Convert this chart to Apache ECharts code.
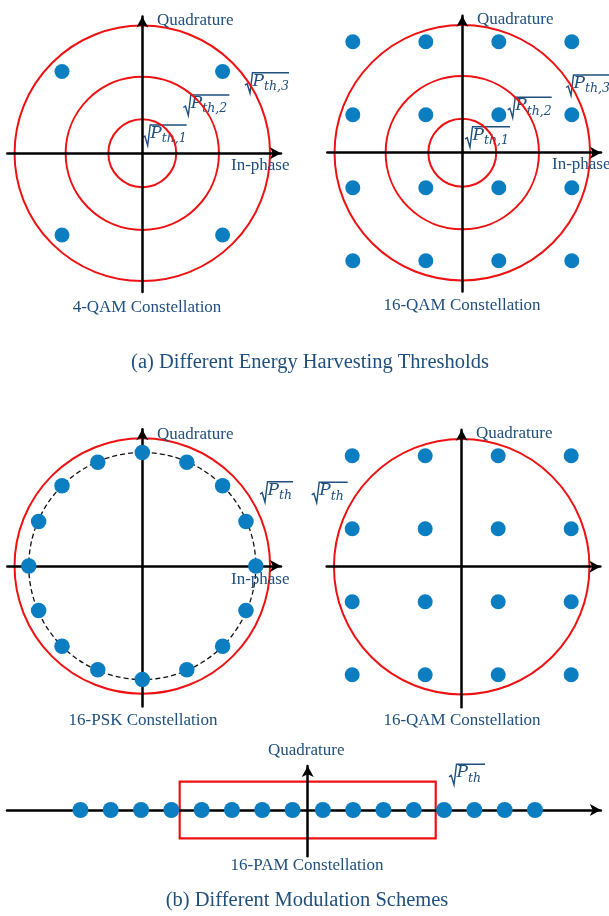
<!DOCTYPE html>
<html>
<head>
<meta charset="utf-8">
<script src="https://cdn.jsdelivr.net/npm/echarts@6/dist/echarts.min.js"></script>
<style>
  html, body { margin: 0; padding: 0; background: #ffffff; }
  #chart { width: 609px; height: 916px; }
</style>
</head>
<body>
<div id="chart"></div>
<script>
// ---- Constellation data (in-phase, quadrature) ----
const qam4Points = [[-2.2, 2.24], [2.2, 2.24], [-2.2, -2.24], [2.2, -2.24]];
const qam16I = [-3, -1, 1, 3];
const qam16Q = [3.04, 1.04, -0.96, -2.96];
const psk16Points = [
  [3.11, 0], [2.84, 1.22], [2.2, 2.2], [1.22, 2.84],
  [0, 3.11], [-1.22, 2.84], [-2.2, 2.2], [-2.84, 1.22],
  [-3.11, 0], [-2.84, -1.22], [-2.2, -2.2], [-1.22, -2.84],
  [0, -3.11], [1.22, -2.84], [2.2, -2.2], [2.84, -1.22]
];
const pam16Levels = [-15, -13, -11, -9, -7, -5, -3, -1, 1, 3, 5, 7, 9, 11, 13, 15];

// ---- Energy-harvesting thresholds ----
const thresholdRadii = [0.93, 2.1, 3.5];      // sqrt(P_th,1..3)
const singleThresholdRadius = 3.5;            // sqrt(P_th)
const pskRingRadius = 3.11;
const pamThresholdBox = [8.45, 1.87];         // half-width, half-height

// ---- Text ----
const axisNameI = 'In-phase';
const axisNameQ = 'Quadrature';
const captions = ['4-QAM Constellation', '16-QAM Constellation', '16-PSK Constellation',
                  '16-QAM Constellation', '16-PAM Constellation'];
const groupTitles = ['(a) Different Energy Harvesting Thresholds', '(b) Different Modulation Schemes'];

// ---- Layout: axis origin in px, px per unit, axis extents ----
const panels = [
  { cx: 142.3, cy: 153.3, s: 36.5, x: [-3.7, 3.8], y: [-3.8, 3.75] },
  { cx: 462.3, cy: 152.7, s: 36.5, x: [-3.7, 3.8], y: [-3.8, 3.75] },
  { cx: 142.3, cy: 566.0, s: 36.5, x: [-3.7, 3.8], y: [-3.85, 3.75] },
  { cx: 461.7, cy: 566.7, s: 36.5, x: [-3.7, 3.8], y: [-3.85, 3.75] },
  { cx: 307.7, cy: 810.0, s: 15.15, x: [-19.85, 19.35], y: [-3.05, 2.9] }
];

const TEXT = '#1f4f7d';
const DOT = '#0b7ec1';
const RED = '#ee1111';
const SERIF = '"Liberation Serif", "Times New Roman", serif';

const grids = panels.map(p => ({
  left: p.cx + p.x[0] * p.s,
  top: p.cy - p.y[1] * p.s,
  width: (p.x[1] - p.x[0]) * p.s,
  height: (p.y[1] - p.y[0]) * p.s
}));

function axis(i, range) {
  return {
    type: 'value', gridIndex: i, min: range[0], max: range[1], z: 3,
    axisLine: { show: true, onZero: true, symbol: ['none', 'arrow'], symbolSize: [9, 11],
                lineStyle: { color: '#000', width: 2.5 } },
    axisTick: { show: false }, axisLabel: { show: false }, splitLine: { show: false }
  };
}
const xAxes = panels.map((p, i) => axis(i, p.x));
const yAxes = panels.map((p, i) => axis(i, p.y));

function dots(i, data, size) {
  return { type: 'scatter', xAxisIndex: i, yAxisIndex: i, data, symbolSize: size, z: 5,
           itemStyle: { color: DOT, opacity: 1 }, silent: true };
}

function rings(i, radii, stroke, width, dash) {
  return {
    type: 'custom', xAxisIndex: i, yAxisIndex: i, z: 2, silent: true,
    data: radii.map(r => [r, 0]),
    renderItem: (params, api) => {
      const c = api.coord([0, 0]);
      const r = api.size([api.value(0), 0])[0];
      return { type: 'circle', shape: { cx: c[0], cy: c[1], r },
               style: { fill: 'none', stroke, lineWidth: width, lineDash: dash || null } };
    }
  };
}

function box(i, halfSize) {
  return {
    type: 'custom', xAxisIndex: i, yAxisIndex: i, z: 2, silent: true,
    data: [halfSize],
    renderItem: (params, api) => {
      const hw = api.value(0), hh = api.value(1);
      const tl = api.coord([-hw, hh]);
      const sz = api.size([2 * hw, 2 * hh]);
      return { type: 'rect', shape: { x: tl[0], y: tl[1], width: sz[0], height: sz[1] },
               style: { fill: 'none', stroke: RED, lineWidth: 2.2 } };
    }
  };
}

const qam16Points = qam16Q.flatMap(q => qam16I.map(v => [v, q]));
const pamPoints = pam16Levels.map(v => [v, 0]);

// ---- Annotations ----
function label(text, x, y, align) {
  return { type: 'text', x, y, z: 10,
           style: { text, font: '17px ' + SERIF, fill: TEXT, align: align || 'left', verticalAlign: 'middle' } };
}
// sqrt(P_sub) drawn as a radical stroke with an overbar
function radical(x, y, sub, w) {
  return {
    type: 'group', x, y, z: 10, children: [
      { type: 'polyline', shape: { points: [[0, 12.5], [2.2, 11], [5, 20.5], [7.5, 0], [w, 0]] },
        style: { stroke: TEXT, lineWidth: 1.4, fill: null, lineJoin: 'miter' } },
      { type: 'text', x: 7.5, y: 0,
        style: { text: 'P', font: 'italic 17px "DejaVu Serif"', fill: TEXT, verticalAlign: 'top' } },
      { type: 'text', x: 19, y: 7.5,
        style: { text: sub, font: 'italic 12.5px "DejaVu Serif"', fill: TEXT, verticalAlign: 'top' } }
    ]
  };
}

const graphics = [
  label(axisNameQ, 157, 21), label(axisNameI, 231, 166),
  label(axisNameQ, 477, 20), label(axisNameI, 552, 165),
  label(axisNameQ, 157, 435), label(axisNameI, 231, 580),
  label(axisNameQ, 476, 434),
  label(axisNameQ, 268, 751),
  label(captions[0], 147, 308, 'center'),
  label(captions[1], 462, 306, 'center'),
  label(captions[2], 143, 721, 'center'),
  label(captions[3], 462, 721, 'center'),
  label(captions[4], 307, 866, 'center'),
  { type: 'text', x: 310, y: 363, z: 10,
    style: { text: groupTitles[0], font: '20.5px ' + SERIF, fill: TEXT, align: 'center', verticalAlign: 'middle' } },
  { type: 'text', x: 307, y: 901, z: 10,
    style: { text: groupTitles[1], font: '20.5px ' + SERIF, fill: TEXT, align: 'center', verticalAlign: 'middle' } },
  radical(245, 72.7, 'th,3', 44),
  radical(183.3, 95, 'th,2', 46),
  radical(142.7, 125, 'th,1', 44),
  radical(566, 75, 'th,3', 44),
  radical(507.7, 97.3, 'th,2', 44),
  radical(465, 126.7, 'th,1', 45),
  radical(260, 481.7, 'th', 33),
  radical(311.7, 482.3, 'th', 36),
  radical(449, 764.3, 'th', 36)
];

const chart = echarts.init(document.getElementById('chart'), null, { renderer: 'canvas' });
chart.setOption({
  animation: false,
  backgroundColor: '#ffffff',
  grid: grids,
  xAxis: xAxes,
  yAxis: yAxes,
  series: [
    rings(0, thresholdRadii, RED, 2),
    dots(0, qam4Points, 15),
    rings(1, thresholdRadii, RED, 2),
    dots(1, qam16Points, 15),
    rings(2, [pskRingRadius], '#111', 1.3, [5, 3]),
    rings(2, [singleThresholdRadius], RED, 2),
    dots(2, psk16Points, 15.5),
    rings(3, [singleThresholdRadius], RED, 2),
    dots(3, qam16Points, 15),
    box(4, pamThresholdBox),
    dots(4, pamPoints, 16)
  ],
  graphic: graphics
});
</script>
</body>
</html>
